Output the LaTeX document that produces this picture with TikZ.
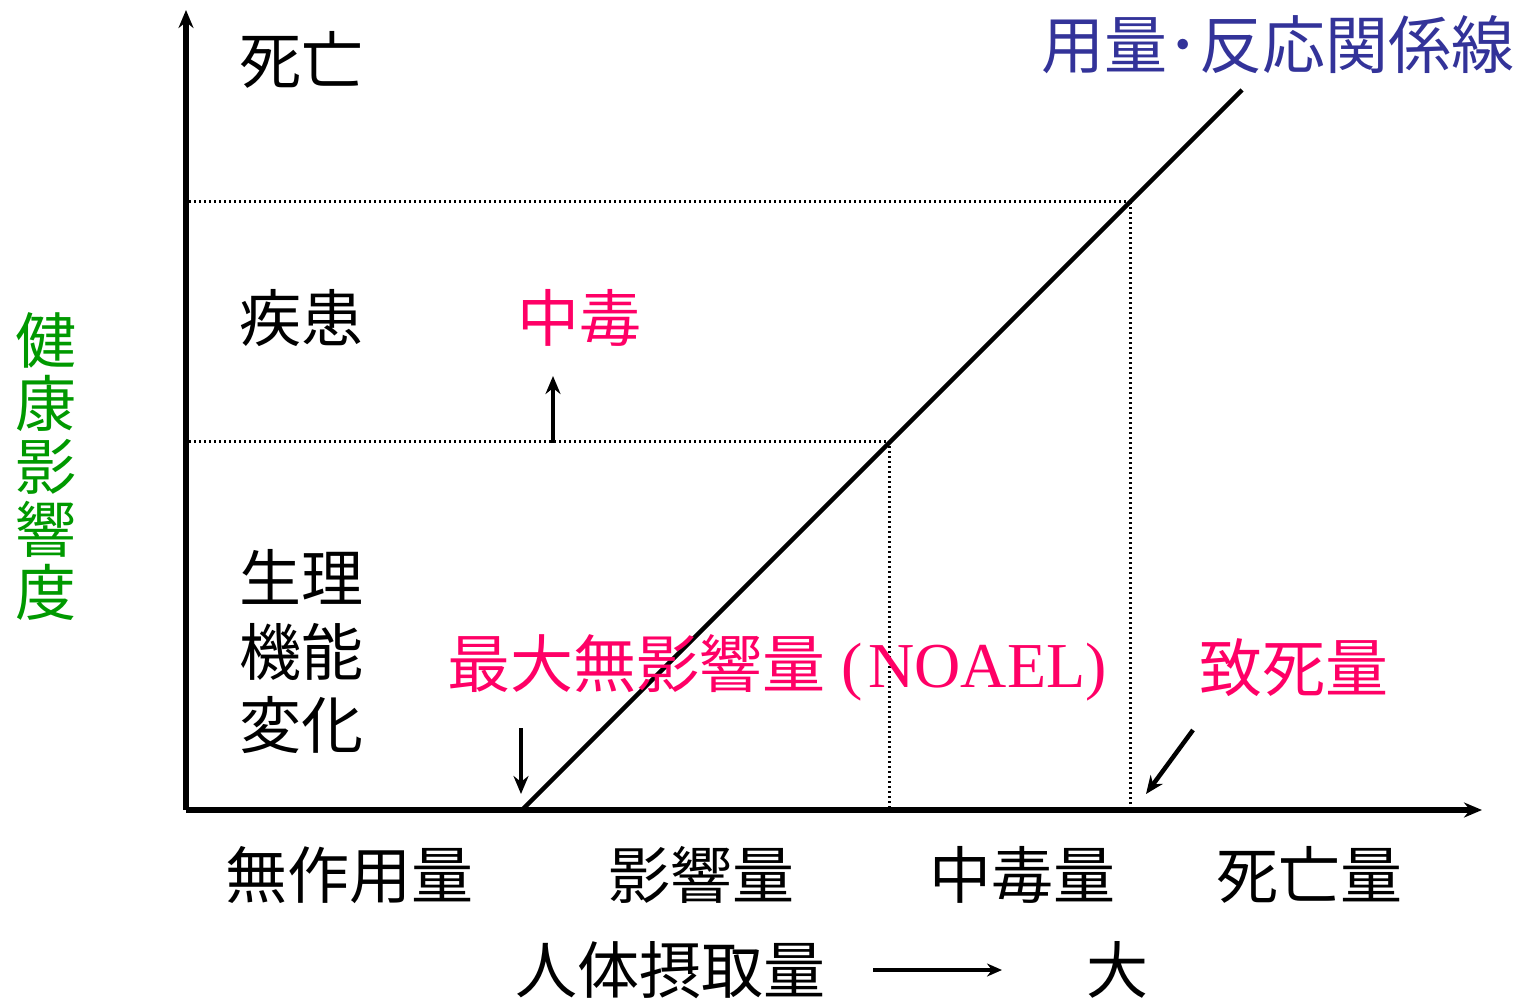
\documentclass[tikz,border=0pt]{standalone}
\usepackage{fontspec}
\setmainfont{Liberation Serif}
\newfontfamily\jp{Noto Sans CJK JP}
\usetikzlibrary{arrows.meta}
\definecolor{pinkc}{RGB}{255,0,102}
\definecolor{bluec}{RGB}{51,51,153}
\definecolor{greenc}{RGB}{0,153,0}
\begin{document}
\begin{tikzpicture}[x=1pt,y=-1pt,
  lbl/.style={font=\jp\fontsize{62}{62}\selectfont, inner sep=0pt, anchor=center},
  axisline/.style={line width=5.5pt, -{Stealth[length=18pt,width=15pt]}},
  dotline/.style={line width=3pt, dash pattern=on 2.4pt off 2.6pt},
  pointer/.style={line width=4.5pt, -{Stealth[length=18pt,width=15pt]}}]
\useasboundingbox (0,0) rectangle (1522,1000);
% axes
\coordinate (O) at (186,810);
\coordinate (ytop) at (186,10);
\coordinate (xend) at (1482,810);
\draw[axisline] (O) -- (ytop);
\draw[axisline] (O) -- (xend);
% dotted guides
\coordinate (h1a) at (189,202);
\coordinate (h1b) at (1130,202);
\coordinate (h2a) at (189,441);
\coordinate (h2b) at (889,441);
\coordinate (v1b) at (889,808);
\coordinate (v2b) at (1130,808);
\draw[dotline] (h1a) -- (h1b);
\draw[dotline] (h2a) -- (h2b);
\draw[dotline] (h2b) -- (v1b);
\draw[dotline] (h1b) -- (v2b);
% dose-response line
\coordinate (d0) at (522,810);
\coordinate (d1) at (1242,90);
\draw[line width=4.5pt] (d0) -- (d1);
% pointer arrows
\coordinate (u0) at (553,443);
\coordinate (u1) at (553,376);
\draw[pointer] (u0) -- (u1);
\coordinate (n0) at (521,728);
\coordinate (n1) at (521,794);
\draw[pointer] (n0) -- (n1);
\coordinate (l0) at (1193,730);
\coordinate (l1) at (1146,794);
\draw[pointer] (l0) -- (l1);
\coordinate (b0) at (873,970);
\coordinate (b1) at (1002,970);
\draw[line width=3.5pt, -{Stealth[length=15pt,width=13pt]}] (b0) -- (b1);
% labels
\node[lbl] (shibo) at (301,60) {死亡};
\node[lbl] (shikkan) at (301,318) {疾患};
\node[lbl, text=pinkc] (chudoku) at (579,318) {中毒};
\node[lbl] (sei) at (301,577) {生理};
\node[lbl] (kino) at (301,652) {機能};
\node[lbl] (henka) at (301,725) {変化};
\node[lbl, text=pinkc, anchor=west, font=\jp\fontsize{63}{63}\selectfont] (noael) at (447,668) {最大無影響量{\fontsize{64}{64}\selectfont\rmfamily\hspace{16pt}(\hspace{6pt}NOAEL)}};
\node[lbl, text=pinkc, font=\jp\fontsize{63}{63}\selectfont] (chishi) at (1294,668) {致死量};
\node[lbl, text=bluec, font=\jp\fontsize{63}{63}\selectfont] (curve) at (1278,45) {用量･反応関係線};
\node[lbl, text=greenc, align=center, font=\jp\fontsize{61}{63}\selectfont] (kenko) at (46,467) {健\\康\\影\\響\\度};
\node[lbl] (musayo) at (349,875) {無作用量};
\node[lbl] (eikyo) at (701,875) {影響量};
\node[lbl] (chudokuryo) at (1022,875) {中毒量};
\node[lbl] (shiboryo) at (1309,875) {死亡量};
\node[lbl] (sesshu) at (670,970) {人体摂取量};
\node[lbl] (dai) at (1117,970) {大};
\end{tikzpicture}
\end{document}
